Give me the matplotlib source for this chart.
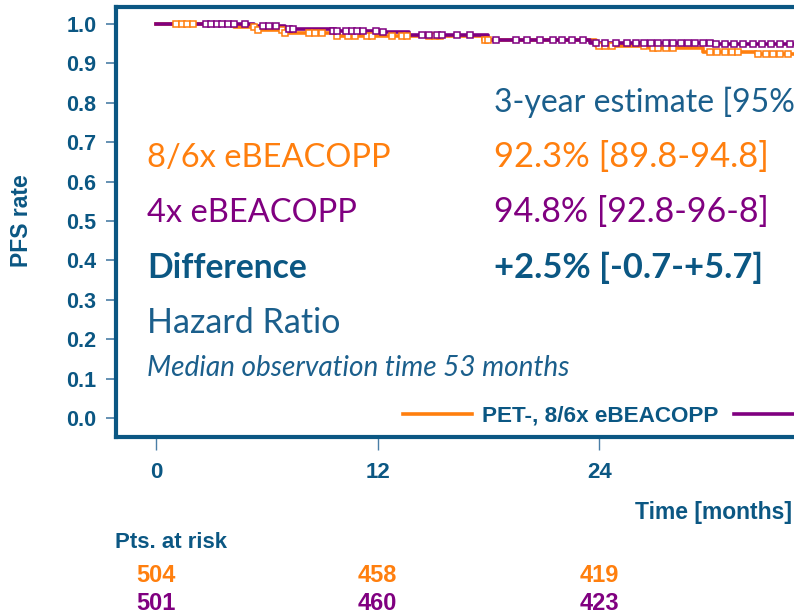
import numpy as np
import matplotlib
matplotlib.use('Agg')
import matplotlib.pyplot as plt

# Kaplan-Meier step data (months, PFS rate)
orange_t = [0, 4.2, 5.5, 6.9, 9.8, 17.7, 23.8, 26.7, 29.6, 32.5, 46]
orange_s = [1.0, 0.992, 0.985, 0.978, 0.969, 0.960, 0.944, 0.938, 0.930, 0.924, 0.923]
purple_t = [0, 5.3, 7.0, 9.6, 12.0, 13.7, 18.0, 23.5, 30.1, 46]
purple_s = [1.0, 0.994, 0.988, 0.983, 0.979, 0.972, 0.959, 0.952, 0.948, 0.948]

# censoring times
orange_cens = [1.1, 1.4, 1.7, 2.0, 5.3, 5.5, 6.8, 7.0, 8.3, 8.6, 9.0, 9.8, 10.4, 10.8,
               11.4, 11.7, 12.8, 13.3, 13.6, 14.8, 15.1, 15.4, 17.8, 18.0, 24.0, 24.3,
               24.7, 26.4, 26.9, 27.2, 27.6, 28.0, 30.0, 30.4, 30.8, 31.2, 31.5,
               32.6, 33.0, 33.4, 33.8, 34.2]
purple_cens = [2.7, 3.0, 3.3, 3.6, 3.9, 4.2, 4.8, 5.8, 6.1, 6.5, 7.2, 7.4, 9.6, 9.8,
               10.3, 10.6, 10.9, 11.2, 11.9, 12.3, 14.4, 14.8, 15.2, 15.5, 16.3, 17.0,
               18.4, 19.5, 20.1, 20.8, 21.5, 22.0, 22.5, 23.1, 23.8, 24.3, 24.9, 25.5,
               26.0, 26.4, 26.8, 27.2, 27.6, 28.0, 28.4, 28.8, 29.2, 29.6, 30.0,
               30.3, 30.8, 31.3, 31.8, 32.3, 32.8, 33.3, 33.8, 34.3]

xticks = [0, 12, 24]
at_risk_orange = [504, 458, 419]
at_risk_purple = [501, 460, 423]

DARK = '#0b5783'
TXT = '#1b5f8c'
ORANGE = '#ff7f0e'
PURPLE = '#800080'
SANS = 'Liberation Sans'

W, H = 794, 613
fig = plt.figure(figsize=(W / 100, H / 100), dpi=100)
ax = fig.add_axes([116 / W, 1 - 437 / H, (1000 - 116) / W, (437 - 7) / H])

px_per_month = 18.47
ax.set_xlim((116 - 156) / px_per_month, (1000 - 156) / px_per_month)
ax.set_ylim((418 - 437) / 394, (418 - 7) / 394)


def surv(t_steps, s_steps, t):
    idx = np.searchsorted(t_steps, t, side='right') - 1
    return np.array(s_steps)[idx]


for t, s, c, cens in [(orange_t, orange_s, ORANGE, orange_cens),
                      (purple_t, purple_s, PURPLE, purple_cens)]:
    ax.step(t, s, where='post', color=c, lw=2.6, zorder=3)
    ax.plot(cens, surv(t, s, cens), 's', mfc='white', mec=c, ms=4.8, mew=1.1, zorder=4)

for sp in ax.spines.values():
    sp.set_color(DARK)
    sp.set_linewidth(3)

ax.set_yticks(np.arange(0, 1.01, 0.1))
ax.set_yticklabels(['%.1f' % v for v in np.arange(0, 1.01, 0.1)])
ax.set_xticks(xticks)
ax.tick_params(axis='y', length=7, width=1.2, color='#4a7ea6', pad=7,
               labelsize=15.5, labelcolor=DARK)
ax.tick_params(axis='x', length=9, width=1.0, color='#4a7ea6', pad=9,
               labelsize=16, labelcolor=DARK)
for lab in ax.get_xticklabels() + ax.get_yticklabels():
    lab.set_fontweight('bold')
    lab.set_family(SANS)

fig.text(22 / W, 1 - 221 / H, 'PFS rate', rotation=90, ha='center', va='center',
         fontsize=16.5, fontweight='bold', color=DARK, family=SANS)

# annotation block
def ftext(x, y, s, **kw):
    fig.text(x / W, 1 - y / H, s, va='baseline', ha='left', family='Lato', **kw)

ftext(494, 112, '3-year estimate [95%CI]', fontsize=23, color=TXT)
ftext(147, 167, '8/6x eBEACOPP', fontsize=23.5, color=ORANGE)
ftext(494, 167, '92.3% [89.8-94.8]', fontsize=24.8, color=ORANGE)
ftext(147, 222, '4x eBEACOPP', fontsize=23.5, color=PURPLE)
ftext(494, 222, '94.8% [92.8-96-8]', fontsize=24.5, color=PURPLE)
ftext(147, 278, 'Difference', fontsize=24.2, color=DARK, fontweight='bold')
ftext(494, 278, '+2.5% [-0.7-+5.7]', fontsize=24.8, color=DARK, fontweight='bold')
ftext(147, 333, 'Hazard Ratio', fontsize=24.5, color=TXT)
ftext(147, 376, 'Median observation time 53 months', fontsize=20.2, color=TXT, style='italic')

# legend
h1, = ax.plot([], [], color=ORANGE, lw=2.6)
h2, = ax.plot([], [], color=PURPLE, lw=2.6)
leg = fig.legend([h1, h2], ['PET-, 8/6x eBEACOPP', 'PET-, 4x eBEACOPP'], ncol=2,
                 loc='center left', bbox_to_anchor=(403 / W, 1 - 416 / H),
                 frameon=False, borderpad=0, borderaxespad=0,
                 handlelength=3.05, handletextpad=0.45, columnspacing=0.7,
                 prop={'family': SANS, 'weight': 'bold', 'size': 16.2},
                 labelcolor=DARK)

fig.text(635 / W, 1 - 513 / H, 'Time [months]', ha='left', va='center', fontsize=16.5,
         fontweight='bold', color=DARK, family=SANS)
fig.text(115 / W, 1 - 542 / H, 'Pts. at risk', ha='left', va='center', fontsize=16,
         fontweight='bold', color=DARK, family=SANS)

tr = matplotlib.transforms.blended_transform_factory(ax.transData, fig.transFigure)
for x, a, b in zip(xticks, at_risk_orange, at_risk_purple):
    fig.text(x, 1 - 575 / H, str(a), transform=tr, ha='center', va='center', fontsize=17,
             fontweight='bold', color=ORANGE, family=SANS)
    fig.text(x, 1 - 603 / H, str(b), transform=tr, ha='center', va='center', fontsize=17,
             fontweight='bold', color=PURPLE, family=SANS)

fig.savefig('out.png', dpi=100)
